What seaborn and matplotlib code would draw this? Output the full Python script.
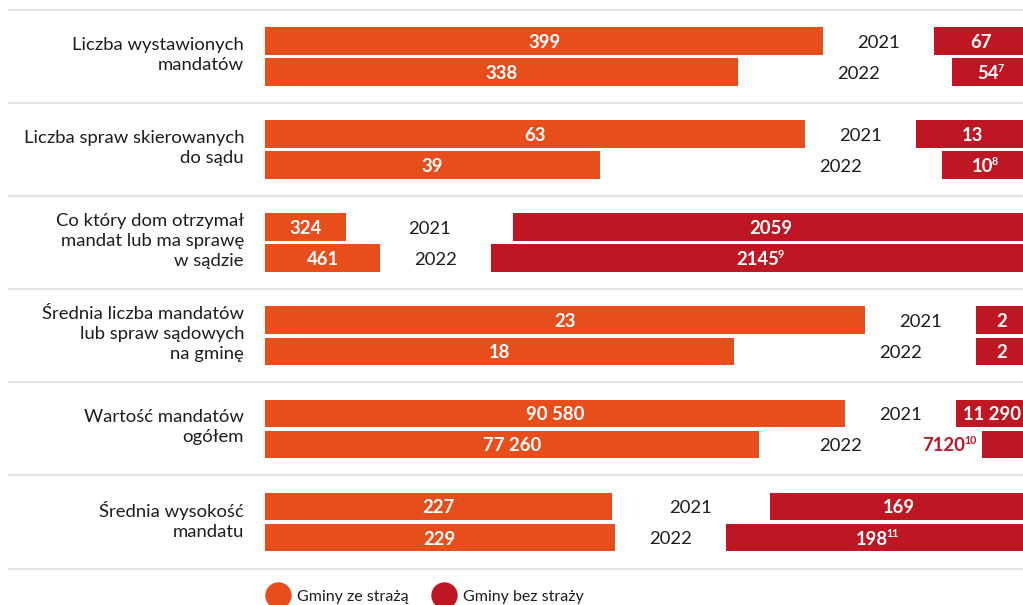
import matplotlib
matplotlib.use("Agg")
import numpy as np
import pandas as pd
import seaborn as sns
import matplotlib.pyplot as plt
from matplotlib.lines import Line2D
from matplotlib.transforms import offset_copy

# ---------------- data ----------------
categories = [
    "Liczba wystawionych\nmandatów",
    "Liczba spraw skierowanych\ndo sądu",
    "Co który dom otrzymał\nmandat lub ma sprawę\nw sądzie",
    "Średnia liczba mandatów\nlub spraw sądowych\nna gminę",
    "Wartość mandatów\nogółem",
    "Średnia wysokość\nmandatu",
]
years = ["2021", "2022"]
with_guard_2021 = [399, 63, 324, 23, 90580, 227]
with_guard_2022 = [338, 39, 461, 18, 77260, 229]
without_guard_2021 = [67, 13, 2059, 2, 11290, 169]
without_guard_2022 = [54, 10, 2145, 2, 7120, 198]
footnotes_2021 = ["", "", "", "", "", ""]
footnotes_2022 = ["7", "8", "9", "", "10", "11"]
legend_labels = ["Gminy ze strażą", "Gminy bez straży"]

# ---------------- style ----------------
sns.set_theme(style="white")
plt.rcParams["font.family"] = ["Lato", "DejaVu Sans"]

ORANGE = "#E84E1C"
RED = "#BE1622"
TEXT = "#1d1d1b"
GRID = "#e3e3e3"
FS = 13.3

W, H = 1023, 605
fig = plt.figure(figsize=(W / 100, H / 100), dpi=100)
X0, X1 = 265, 1028
AW = X1 - X0
ax = fig.add_axes([X0 / W, 0, AW / W, 1])
ax2 = ax.twiny()

FILL = 0.8545


def fmt(v):
    return f"{v:,}".replace(",", " ") if v >= 10000 else str(v)


rows = []
for g in range(len(categories)):
    o = [with_guard_2021[g], with_guard_2022[g]]
    r = [without_guard_2021[g], without_guard_2022[g]]
    f = [footnotes_2021[g], footnotes_2022[g]]
    scale = FILL / max(o[i] + r[i] for i in range(2))
    for i in range(2):
        rows.append(dict(group=g, row=i, year=years[i], pos=3 * g + 1 + i,
                         orange=o[i], red=r[i], foot=f[i],
                         o_len=o[i] * scale, r_len=r[i] * scale,
                         total=o[i] + r[i]))
df = pd.DataFrame(rows)

sns.barplot(data=df, x="o_len", y="pos", orient="h", native_scale=True,
            color=ORANGE, saturation=1, width=0.89, errorbar=None,
            linewidth=0, ax=ax)
sns.barplot(data=df, x="r_len", y="pos", orient="h", native_scale=True,
            color=RED, saturation=1, width=0.89, errorbar=None,
            linewidth=0, ax=ax2)

ax.set_xlim(0, 1)
ax2.set_xlim(1, 0)
ax.set_ylim(19.175, -0.3223)
ax2.set_ylim(19.175, -0.3223)
ax.axis("off")
ax2.axis("off")

yax = ax.get_yaxis_transform()

# separators
for k in range(len(categories) + 1):
    ax.plot([(8 - X0) / AW, (W - X0) / AW], [3 * k, 3 * k], transform=yax,
            color=GRID, lw=1.6, clip_on=False, solid_capstyle="butt")

# category labels
for g, cat in enumerate(categories):
    ax.text((244 - X0) / AW, 3 * g + 1.45, cat, transform=yax, ha="right",
            va="center", multialignment="right", fontsize=FS, color=TEXT,
            linespacing=1.32)

renderer = fig.canvas.get_renderer()


def text_w(s, size, weight="bold"):
    t = fig.text(0, 0, s, fontsize=size, fontweight=weight)
    w = t.get_window_extent(renderer).width
    t.remove()
    return w


SUP = 0.58
SUP_GAP = -1.5


def label_width(main, sup):
    w = text_w(main, FS)
    if sup:
        w += text_w(sup, FS * SUP) + SUP_GAP
    return w


def put_label(axis, x, y, main, sup, color, anchor="center", dx=0.0):
    base = axis.transData
    w_main = text_w(main, FS)
    total = label_width(main, sup)
    left = (-total / 2 if anchor == "center" else -total) + dx
    axis.text(x, y, main, ha="left", va="center_baseline", color=color,
              fontsize=FS, fontweight="bold",
              transform=offset_copy(base, fig=fig, x=left, y=0, units="dots"))
    if sup:
        axis.text(x, y, sup, ha="left", va="center_baseline", color=color,
                  fontsize=FS * SUP, fontweight="bold",
                  transform=offset_copy(base, fig=fig,
                                        x=left + w_main + SUP_GAP,
                                        y=5, units="dots"))


# value labels + year labels
for g in range(len(categories)):
    sub = df[df.group == g].reset_index(drop=True)
    gap_l, gap_r, outside = [], [], []
    for i, rw in sub.iterrows():
        put_label(ax, rw.o_len / 2, rw.pos, fmt(rw.orange), "", "white")
        lw = label_width(fmt(rw.red), rw.foot)
        bar_px = rw.r_len * AW
        out = bar_px < lw + 6
        if out:
            put_label(ax2, rw.r_len, rw.pos, fmt(rw.red), rw.foot, RED,
                      anchor="right", dx=-6)
            right_edge = 1 - rw.r_len - (lw + 6) / AW
        else:
            put_label(ax2, rw.r_len / 2, rw.pos, fmt(rw.red), rw.foot, "white")
            right_edge = 1 - rw.r_len
        gap_l.append(rw.o_len)
        gap_r.append(right_edge)
        outside.append(out)
    mids = [(gap_l[i] + gap_r[i]) / 2 for i in range(2)]
    m = int(np.argmax(sub.total.values))
    other = 1 - m
    xs = [0, 0]
    xs[m] = mids[m]
    if m == 0 and not outside[other]:
        xs[other] = xs[m] - 20 / AW
    else:
        xs[other] = mids[other]
    for i in range(2):
        ax.text(xs[i], sub.pos[i], sub.year[i], ha="center",
                va="center_baseline", fontsize=FS, color=TEXT)

# legend
handles = [Line2D([0], [0], marker="o", ls="none", markersize=19,
                  markerfacecolor=c, markeredgewidth=0) for c in (ORANGE, RED)]
leg = fig.legend(handles, legend_labels, loc="center left",
                 bbox_to_anchor=(265.5 / W, 1 - 597 / H), ncol=2,
                 frameon=False, fontsize=11.5, handlelength=1.62,
                 handletextpad=0.36, columnspacing=1.4, borderpad=0,
                 borderaxespad=0)
for t in leg.get_texts():
    t.set_color(TEXT)

fig.savefig("out.png", dpi=100)
